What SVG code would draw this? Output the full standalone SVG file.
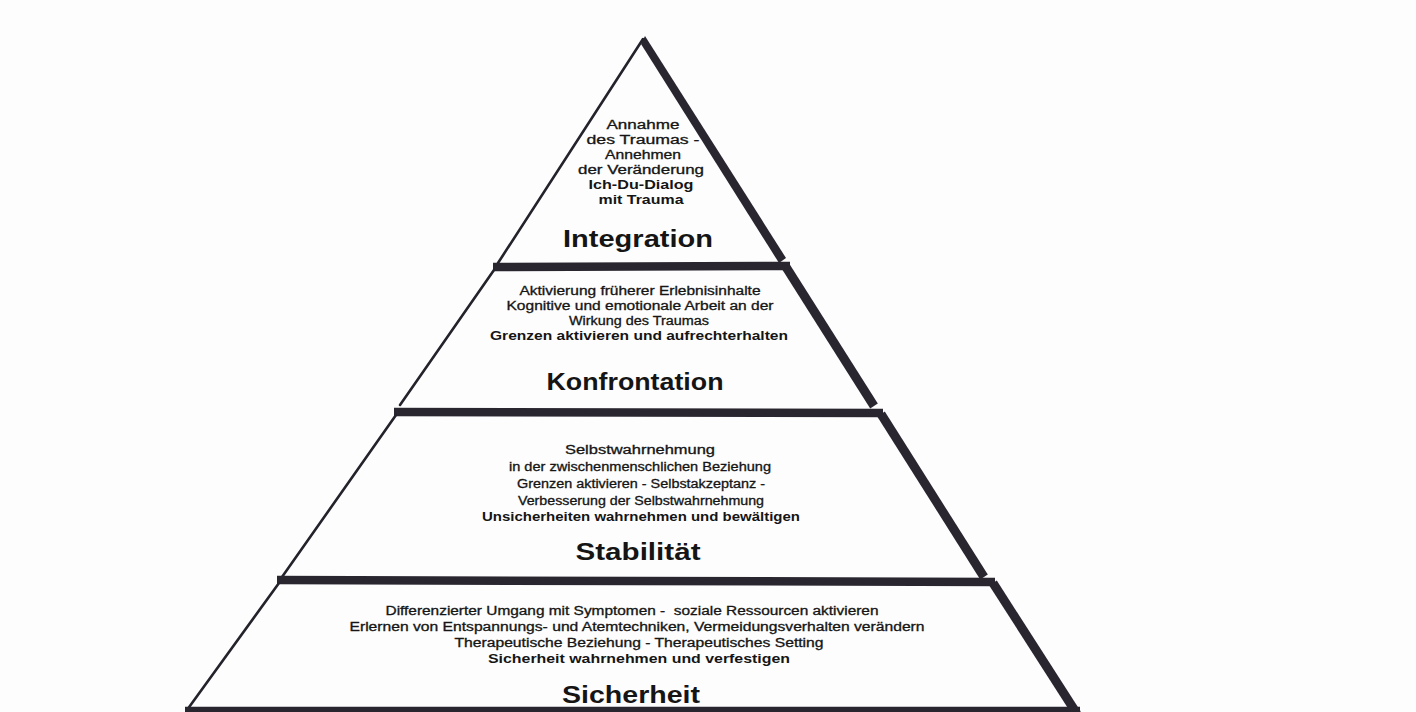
<svg xmlns="http://www.w3.org/2000/svg" width="1416" height="712" viewBox="0 0 1416 712">
<style>
.thin{stroke:#24222b;stroke-width:2.6;fill:none;stroke-linecap:round}
.thick{stroke:#2a2630;stroke-width:9;fill:none;stroke-linecap:butt}
.bar{stroke:#2a2630;stroke-width:8.5;fill:none;stroke-linecap:butt}
text{font-family:"Liberation Sans",Arial,sans-serif;fill:#151515;text-anchor:middle}
.t{font-size:12px;stroke:#151515;stroke-width:0.3}
.b{font-size:12px;font-weight:bold}
.h{font-size:23px;font-weight:bold}
</style>
<rect width="1416" height="712" fill="#fdfdfd"/>
<g id="connectors">
<polygon points="645,36 786,258 779,263 641,44" fill="#2a2630"/>
<line class="thin" x1="643" y1="39" x2="498" y2="263"/>
<line class="bar" x1="493" y1="267" x2="790" y2="266"/>
<line class="thin" x1="494" y1="270" x2="400" y2="405"/>
<line class="thick" x1="786" y1="267" x2="874" y2="406"/>
<line class="bar" x1="394" y1="412" x2="883" y2="413"/>
<line class="thin" x1="396" y1="415" x2="282" y2="577"/>
<line class="thick" x1="881" y1="414" x2="984" y2="577"/>
<line class="bar" x1="277" y1="580" x2="995" y2="582"/>
<line class="thin" x1="279" y1="583" x2="187" y2="710"/>
<line class="thick" x1="993" y1="583" x2="1077" y2="714"/>
<line class="bar" x1="185" y1="711" x2="1080" y2="711"/>
</g>
<g id="integration">
<text class="t" x="643" y="129" textLength="73" lengthAdjust="spacingAndGlyphs">Annahme</text>
<text class="t" x="643" y="144" textLength="113" lengthAdjust="spacingAndGlyphs">des Traumas -</text>
<text class="t" x="643" y="159" textLength="76" lengthAdjust="spacingAndGlyphs">Annehmen</text>
<text class="t" x="641" y="174" textLength="126" lengthAdjust="spacingAndGlyphs">der Veränderung</text>
<text class="b" x="641" y="189" textLength="105" lengthAdjust="spacingAndGlyphs">Ich-Du-Dialog</text>
<text class="b" x="641" y="204" textLength="85" lengthAdjust="spacingAndGlyphs">mit Trauma</text>
<text class="h" x="638" y="247" textLength="150" lengthAdjust="spacingAndGlyphs">Integration</text>
</g>
<g id="konfrontation">
<text class="t" x="640" y="295" textLength="241" lengthAdjust="spacingAndGlyphs">Aktivierung früherer Erlebnisinhalte</text>
<text class="t" x="640" y="310" textLength="267" lengthAdjust="spacingAndGlyphs">Kognitive und emotionale Arbeit an der</text>
<text class="t" x="639" y="325" textLength="140" lengthAdjust="spacingAndGlyphs">Wirkung des Traumas</text>
<text class="b" x="639" y="340" textLength="298" lengthAdjust="spacingAndGlyphs">Grenzen aktivieren und aufrechterhalten</text>
<text class="h" x="635" y="390" textLength="177" lengthAdjust="spacingAndGlyphs">Konfrontation</text>
</g>
<g id="stabilitaet">
<text class="t" x="640" y="454" textLength="150" lengthAdjust="spacingAndGlyphs">Selbstwahrnehmung</text>
<text class="t" x="640" y="471" textLength="262" lengthAdjust="spacingAndGlyphs">in der zwischenmenschlichen Beziehung</text>
<text class="t" x="641" y="488" textLength="248" lengthAdjust="spacingAndGlyphs">Grenzen aktivieren - Selbstakzeptanz -</text>
<text class="t" x="641" y="505" textLength="246" lengthAdjust="spacingAndGlyphs">Verbesserung der Selbstwahrnehmung</text>
<text class="b" x="641" y="521" textLength="318" lengthAdjust="spacingAndGlyphs">Unsicherheiten wahrnehmen und bewältigen</text>
<text class="h" x="638" y="560" textLength="125" lengthAdjust="spacingAndGlyphs">Stabilität</text>
</g>
<g id="sicherheit">
<text class="t" x="632" y="615" textLength="493" lengthAdjust="spacingAndGlyphs" xml:space="preserve">Differenzierter Umgang mit Symptomen -  soziale Ressourcen aktivieren</text>
<text class="t" x="637" y="631" textLength="575" lengthAdjust="spacingAndGlyphs">Erlernen von Entspannungs- und Atemtechniken, Vermeidungsverhalten verändern</text>
<text class="t" x="639" y="647" textLength="369" lengthAdjust="spacingAndGlyphs">Therapeutische Beziehung - Therapeutisches Setting</text>
<text class="b" x="639" y="663" textLength="302" lengthAdjust="spacingAndGlyphs">Sicherheit wahrnehmen und verfestigen</text>
<text class="h" x="631" y="703" textLength="138" lengthAdjust="spacingAndGlyphs">Sicherheit</text>
</g>
</svg>
